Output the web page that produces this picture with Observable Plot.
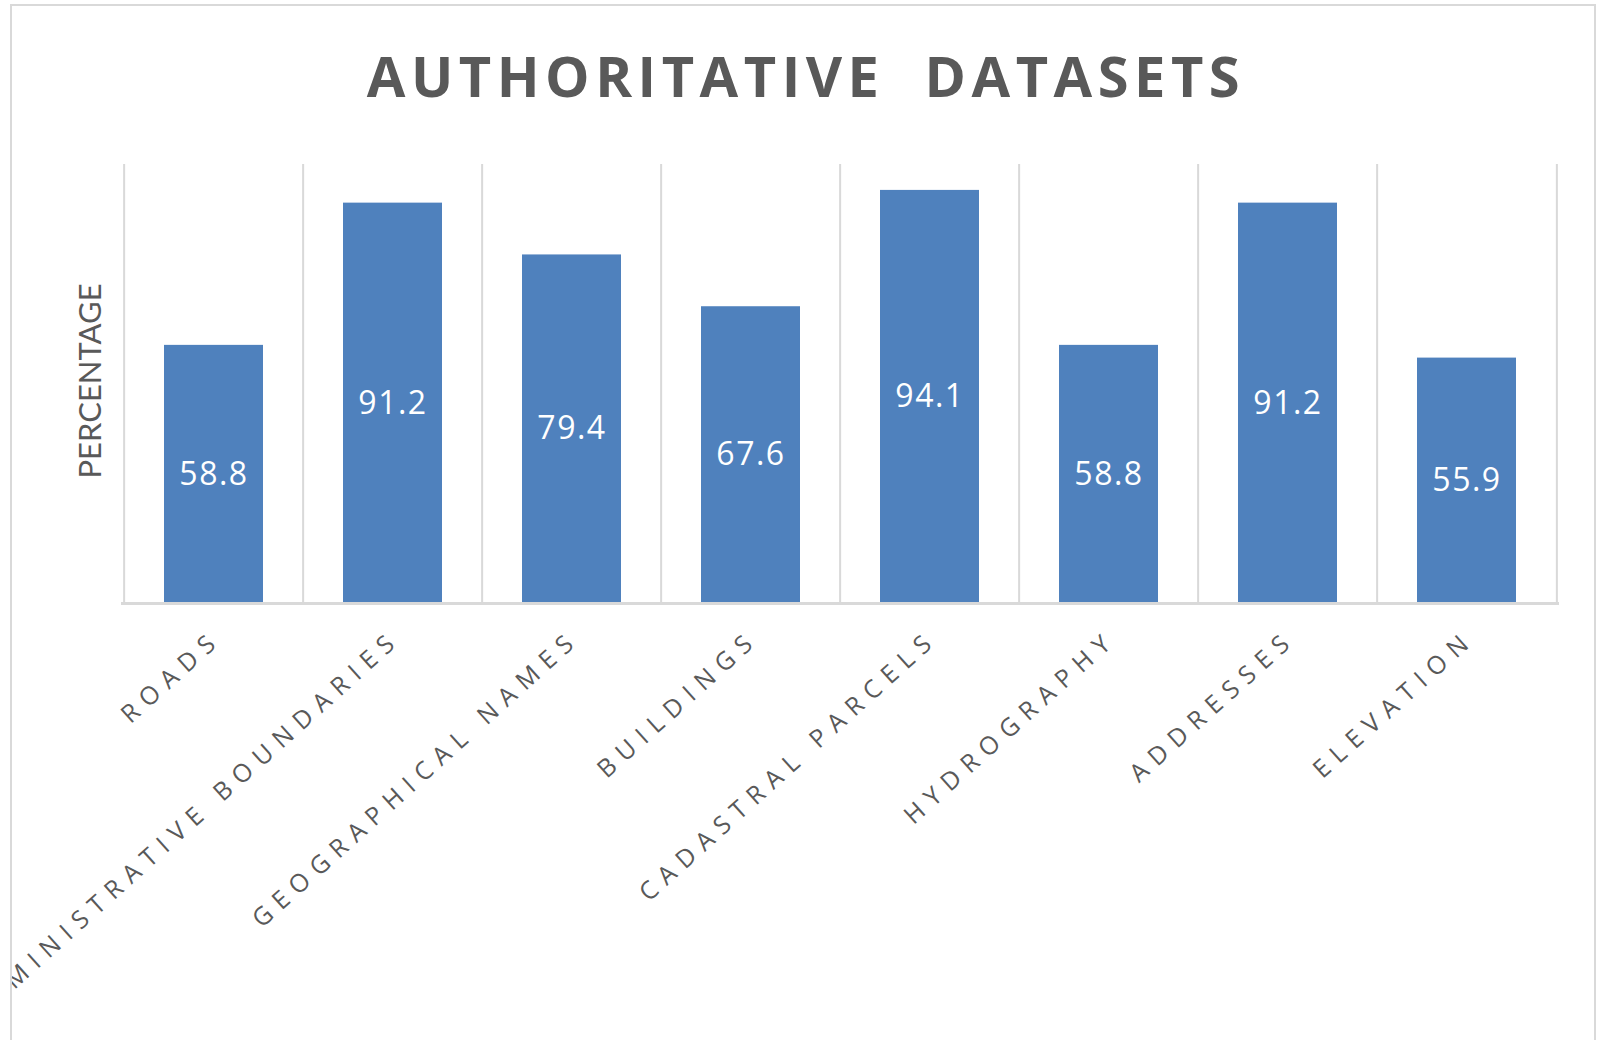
<!DOCTYPE html>
<html>
<head>
<meta charset="utf-8">
<script src="https://cdn.jsdelivr.net/npm/d3@7"></script>
<script src="https://cdn.jsdelivr.net/npm/@observablehq/plot@0.6"></script>
<style>
  html, body { margin: 0; padding: 0; background: #fff; overflow: hidden; }
  #frame { position: absolute; left: 10px; top: 4px; width: 1586px; height: 1100px;
           border: 2px solid #d9d9d9; border-bottom: none; box-sizing: border-box; }
  #title { position: absolute; left: 10px; top: 47px; width: 1592px; text-align: center;
           font-family: "Open Sans", sans-serif; font-weight: 700; font-size: 56px; line-height: 56px;
           letter-spacing: 5.5px; color: #595959; white-space: pre; }
  #chart { position: absolute; left: 12px; top: 130px; }
</style>
</head>
<body>
<div id="frame"></div>
<div id="title">AUTHORITATIVE  DATASETS</div>
<div id="chart"></div>
<script>
const categories = ["ROADS", "ADMINISTRATIVE BOUNDARIES", "GEOGRAPHICAL NAMES", "BUILDINGS",
                    "CADASTRAL PARCELS", "HYDROGRAPHY", "ADDRESSES", "ELEVATION"];
const values = [58.8, 91.2, 79.4, 67.6, 94.1, 58.8, 91.2, 55.9];
const yLabel = "PERCENTAGE";

const data = categories.map((c, i) => ({category: c, value: values[i]}));

const W = 1595, H = 910, mL = 109, mR = 48, mT = 34, mB = 437;
const step = (W - mL - mR) / categories.length;

const chart = Plot.plot({
  width: W, height: H,
  marginLeft: mL, marginRight: mR, marginTop: mT, marginBottom: mB,
  style: {fontFamily: "'Open Sans', sans-serif", background: "transparent", color: "#595959"},
  x: {domain: categories, paddingInner: 0.447, paddingOuter: 0.2235, axis: null},
  y: {domain: [0, 100], axis: null},
  marks: [
    Plot.ruleX(categories, {x: d => d, y1: 0, y2: 100, dx: -step / 2, stroke: "#d9d9d9", strokeWidth: 2}),
    Plot.ruleX([categories[categories.length - 1]], {x: d => d, y1: 0, y2: 100, dx: step / 2, stroke: "#d9d9d9", strokeWidth: 2}),
    Plot.barY(data, {x: "category", y: "value", fill: "#4f81bd"}),
    Plot.ruleY([0], {stroke: "#d9d9d9", strokeWidth: 3}),
    Plot.text(data, {x: "category", y: d => d.value / 2, text: d => d.value.toFixed(1),
      fill: "white", fontSize: 32}),
    Plot.text(categories, {x: d => d, frameAnchor: "bottom", text: d => d, rotate: -42,
      textAnchor: "end", lineAnchor: "middle", dx: 4, dy: 31.5, fontSize: 25,
      fill: "#595959"}),
    Plot.text([yLabel], {frameAnchor: "left", text: d => d, rotate: -90, dx: -30, dy: -3,
      textAnchor: "middle", lineAnchor: "middle", fontSize: 31, fill: "#595959",
      fontFamily: "Lato, sans-serif"})
  ]
});
const textGroups = d3.select(chart).selectAll("g[aria-label='text']").nodes();
d3.select(textGroups[0]).selectAll("text").style("letter-spacing", "1.5px");
d3.select(textGroups[1]).selectAll("text").style("letter-spacing", "8.5px");
document.getElementById("chart").appendChild(chart);
</script>
</body>
</html>
